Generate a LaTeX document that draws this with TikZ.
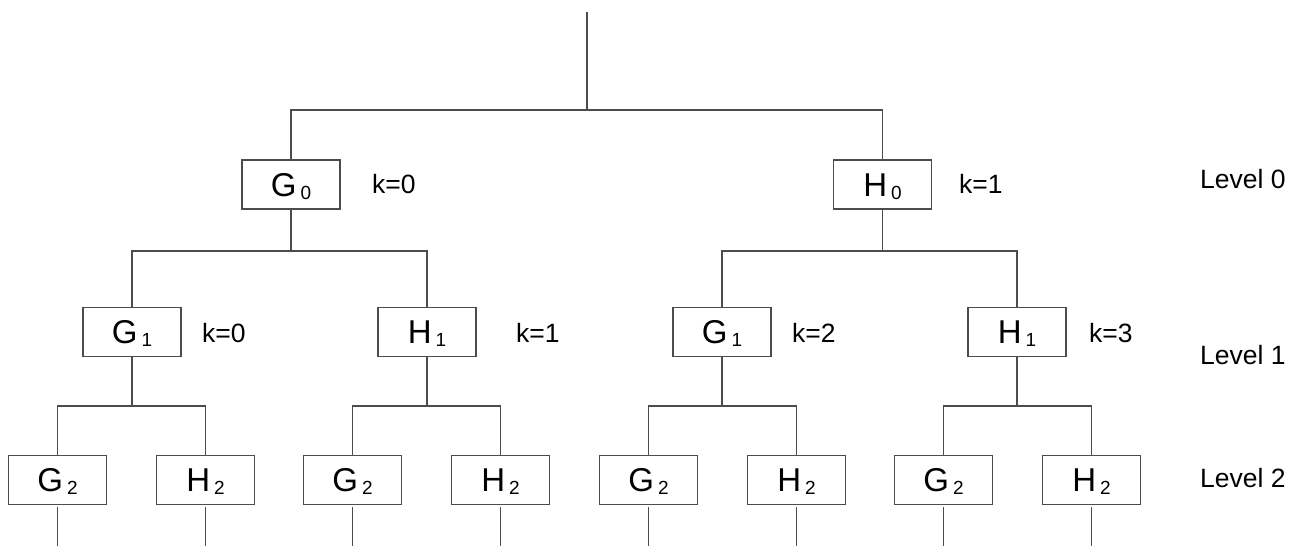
\documentclass[tikz,border=0pt]{standalone}
\usepackage{fontspec}
\setmainfont{Liberation Sans}
\newcommand\subidx[1]{\kern4pt\raisebox{-3pt}{\fontsize{19}{22}\selectfont #1}}
\begin{document}
\begin{tikzpicture}[x=1pt,y=-1pt,
  box/.style={draw=black!70, line width=1.1pt, minimum width=98pt, minimum height=49pt,
    inner sep=0pt, text height=23pt, text depth=0pt, font=\fontsize{33}{38}\selectfont},
  lbl/.style={anchor=base west, inner sep=0pt, font=\fontsize{26.5}{30}\selectfont},
  wire/.style={draw=black!70, line width=1.1pt}]
\useasboundingbox (0,0) rectangle (1294,546);
% rows
\coordinate (y0) at (0,110);
\coordinate (y1) at (0,251);
\coordinate (y2) at (0,406);
\coordinate (yb) at (0,546);
% level 0
\node[box] (l0g) at (291,184.5) {G\subidx{0}};
\node[box] (l0h) at (882.5,184.5) {H\subidx{0}};
% level 1
\node[box] (l1a) at (132,332) {G\subidx{1}};
\node[box] (l1b) at (427,332) {H\subidx{1}};
\node[box] (l1c) at (722,332) {G\subidx{1}};
\node[box] (l1d) at (1017,332) {H\subidx{1}};
% level 2
\node[box] (l2a) at (57.5,480) {G\subidx{2}};
\node[box] (l2b) at (205.5,480) {H\subidx{2}};
\node[box] (l2c) at (352.5,480) {G\subidx{2}};
\node[box] (l2d) at (500.5,480) {H\subidx{2}};
\node[box] (l2e) at (648.5,480) {G\subidx{2}};
\node[box] (l2f) at (796.5,480) {H\subidx{2}};
\node[box] (l2g) at (943.5,480) {G\subidx{2}};
\node[box] (l2h) at (1091.5,480) {H\subidx{2}};
% k labels
\node[lbl] (k0) at (372,193) {k=0};
\node[lbl] (k1) at (959,193) {k=1};
\node[lbl] (k10) at (202,342) {k=0};
\node[lbl] (k11) at (516,342) {k=1};
\node[lbl] (k12) at (792,342) {k=2};
\node[lbl] (k13) at (1089,342) {k=3};
% level labels
\node[lbl] (lev0) at (1200,188) {Level 0};
\node[lbl] (lev1) at (1200,364) {Level 1};
\node[lbl] (lev2) at (1200,487) {Level 2};
% connectors
\coordinate (top) at (587,12);
\coordinate (j0) at (587,110);
\draw[wire] (top) -- (j0);
\draw[wire] (l0g.north) |- (j0) -| (l0h.north);
% level 0 -> 1
\draw[wire] (l0g.south) -- (l0g.south |- y1);
\draw[wire] (l1a.north) |- (l0g.south |- y1) -| (l1b.north);
\draw[wire] (l0h.south) -- (l0h.south |- y1);
\draw[wire] (l1c.north) |- (l0h.south |- y1) -| (l1d.north);
% level 1 -> 2
\foreach \p/\a/\b in {l1a/l2a/l2b, l1b/l2c/l2d, l1c/l2e/l2f, l1d/l2g/l2h}{
  \draw[wire] (\p.south) -- (\p.south |- y2);
  \draw[wire] (\a.north) |- (\p.south |- y2) -| (\b.north);
}
% bottom stubs
\foreach \n in {l2a,l2b,l2c,l2d,l2e,l2f,l2g,l2h}{
  \draw[wire] ([yshift=-2pt]\n.south) -- (\n.south |- yb);
}
\end{tikzpicture}
\end{document}
